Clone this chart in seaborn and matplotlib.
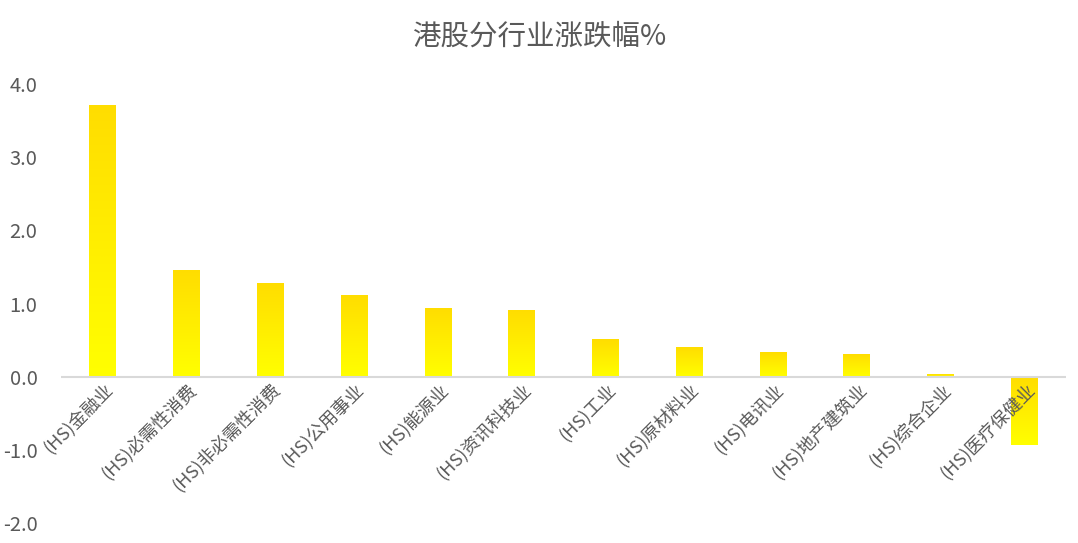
import numpy as np
import pandas as pd
import matplotlib
matplotlib.use("Agg")
import matplotlib.pyplot as plt
from matplotlib.colors import LinearSegmentedColormap
import seaborn as sns

categories = ["(HS)金融业", "(HS)必需性消费", "(HS)非必需性消费", "(HS)公用事业",
              "(HS)能源业", "(HS)资讯科技业", "(HS)工业", "(HS)原材料业",
              "(HS)电讯业", "(HS)地产建筑业", "(HS)综合企业", "(HS)医疗保健业"]
values = [3.72, 1.46, 1.28, 1.12, 0.94, 0.91, 0.51, 0.40, 0.34, 0.31, 0.04, -0.93]
yticks = [-2.0, -1.0, 0.0, 1.0, 2.0, 3.0, 4.0]
title = "港股分行业涨跌幅%"

sns.set_theme(style="white")
plt.rcParams['font.family'] = ['Noto Sans CJK SC', 'DejaVu Sans']

df = pd.DataFrame({"cat": categories, "val": values})

fig = plt.figure(figsize=(10.78, 5.43), dpi=100)
ax = fig.add_axes([0.0566, 0.0368, 0.9324, 0.8082])
sns.barplot(data=df, x="cat", y="val", ax=ax, width=0.32, color="#FFE600",
            saturation=1, edgecolor="none")

ax.set_ylim(-2.0, 4.0)
ax.set_xlim(-0.5, len(categories) - 0.5)

cmap = LinearSegmentedColormap.from_list("g", ["#FFFF00", "#FFDD00"])
grad = np.linspace(0, 1, 256).reshape(-1, 1)
for p in ax.patches:
    x0, y0 = p.get_x(), p.get_y()
    w, h = p.get_width(), p.get_height()
    ylo, yhi = min(y0, y0 + h), max(y0, y0 + h)
    im = ax.imshow(grad, cmap=cmap, aspect="auto", origin="lower",
                   extent=[x0, x0 + w, ylo, yhi], zorder=p.get_zorder())
    im.set_clip_path(p)
    p.set_facecolor("none")
ax.set_xlim(-0.5, len(categories) - 0.5)
ax.set_ylim(-2.0, 4.0)

ax.axhline(0, color="#D9D9D9", lw=1.5, zorder=5)
for s in ax.spines.values():
    s.set_visible(False)

ax.set_yticks(yticks)
ax.set_yticklabels([f"{t:.1f}" for t in yticks], fontsize=14.5, color="#595959")
ax.tick_params(axis="y", length=0, pad=17)
ax.set_xticks([])
ax.set_xlabel("")
ax.set_ylabel("")

for i, c in enumerate(categories):
    ax.text(i + 0.09, -0.14, c, rotation=45, ha="right", va="center",
            rotation_mode="anchor", fontsize=13, color="#595959", zorder=6)

fig.suptitle(title, x=0.5, y=0.96, fontsize=20.5, color="#595959")

fig.savefig("out.png", dpi=100, facecolor="white")
